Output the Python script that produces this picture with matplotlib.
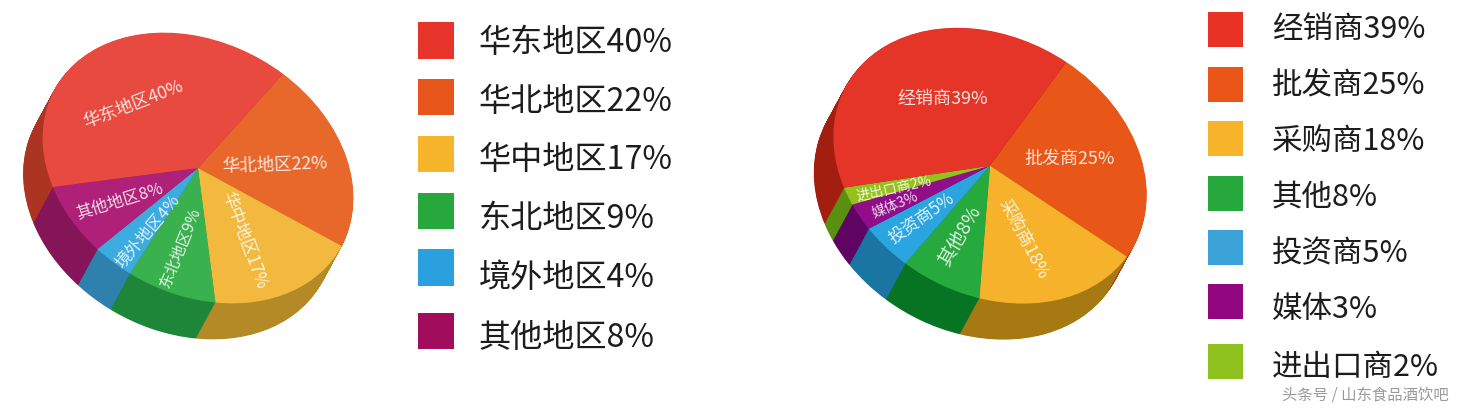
import matplotlib
matplotlib.use("Agg")
import matplotlib.pyplot as plt
from matplotlib.patches import Rectangle
from matplotlib.transforms import Affine2D

plt.rcParams['font.family'] = ['Noto Sans CJK SC', 'DejaVu Sans']

W, H = 1459, 408

# ---- data -------------------------------------------------------------
region_names = ['华北地区', '华中地区', '东北地区', '境外地区', '其他地区', '华东地区']
region_values = [22, 17, 9, 4, 8, 40]
channel_names = ['批发商', '采购商', '其他', '投资商', '媒体', '进出口商', '经销商']
channel_values = [25, 18, 8, 5, 3, 2, 39]

legend_region_names = ['华东地区', '华北地区', '华中地区', '东北地区', '境外地区', '其他地区']
legend_region_values = [40, 22, 17, 9, 4, 8]
legend_channel_names = ['经销商', '批发商', '采购商', '其他', '投资商', '媒体', '进出口商']
legend_channel_values = [39, 25, 18, 8, 5, 3, 2]

# ---- styles -----------------------------------------------------------
region_top = ['#E8682C', '#F3B93E', '#39B14E', '#3BABE0', '#AF2079', '#E84A3F']
region_side = ['#AE4A1C', '#B38A26', '#1E8639', '#2E80AD', '#851558', '#AB3520']
channel_top = ['#E85717', '#F6B22A', '#27AA3D', '#2BA5E0', '#920D8A', '#95C11F', '#E53428']
channel_side = ['#AA3F10', '#A67912', '#077423', '#1B75A3', '#5E0563', '#5A9010', '#A41E10']
region_legend_colors = ['#E8352B', '#E8551A', '#F7B52B', '#27A83C', '#2BA0DF', '#A10C5C']
channel_legend_colors = ['#E83226', '#E85516', '#F7B32A', '#27A83C', '#3BA2D8', '#920680', '#8FC11F']

# label layout: centre x, centre y, rotation, font px (same order as the data)
region_labels = [(275, 165, 2, 17.5), (244, 240, -70, 17), (181, 248, 68, 15.5),
                 (148, 232, 50, 16.5), (120, 201, 17, 16.5), (133, 104, 21, 17.5)]
channel_labels = [(1070, 159, 0, 18), (1023, 239, -62, 17.5), (960, 236, 60, 19),
                  (922, 219, 35, 17), (895, 205, 22, 14), (894, 189, 12, 14), (943, 99, 0, 18)]

region_legend_y = [22.3, 79, 135.7, 192.7, 249.3, 312.7]
region_legend_text_y = [43, 102, 160, 219, 278, 338]
channel_legend_y = [12.3, 66.7, 121, 175.7, 230, 284.3, 344.3]
channel_legend_text_y = [29, 85, 141, 197, 254, 310, 367]

fig = plt.figure(figsize=(W / 100, H / 100), dpi=100)
ax = fig.add_axes([0, 0, 1, 1])


def tilted_pie(values, colors, centre, p, q, shift=(0.0, 0.0)):
    """Draw a pie with the library, then map its unit circle to a tilted disc."""
    wedges, _ = ax.pie(values, colors=colors, startangle=0, radius=1,
                       wedgeprops={'linewidth': 0})
    m = Affine2D.from_values(p[0], p[1], q[0], q[1],
                             centre[0] + shift[0], centre[1] + shift[1])
    for w in wedges:
        w.set_transform(m + ax.transData)
        w.set_clip_on(False)


def solid_pie(values, top, side, centre, p, q, depth):
    layers = int(max(abs(depth[0]), abs(depth[1])) * 2)
    for i in range(layers, 0, -1):
        t = i / layers
        tilted_pie(values, side, centre, p, q, (depth[0] * t, depth[1] * t))
    tilted_pie(values, top, centre, p, q)


solid_pie(region_values, region_top, region_side,
          (198, 168), (85, -94.1), (130.1, 97.3), (-19.5, 36))
solid_pie(channel_values, channel_top, channel_side,
          (990, 165.7), (76.2, -103.7), (136.9, 90.9), (-19.5, 36))

ax.set_aspect('auto')
ax.set_xlim(0, W)
ax.set_ylim(H, 0)
ax.axis('off')

PX = 72 / 100  # points per pixel at this dpi

for names, values, layout in [(region_names, region_values, region_labels),
                              (channel_names, channel_values, channel_labels)]:
    for name, v, (x, y, rot, px) in zip(names, values, layout):
        ax.text(x, y, f'{name}{v}%', color='white', alpha=0.85, fontsize=px * PX,
                rotation=rot, rotation_mode='anchor', ha='center', va='center')

for names, values, colors, ys, tys, x0, size, tx, px in [
    (legend_region_names, legend_region_values, region_legend_colors,
     region_legend_y, region_legend_text_y, 418, 36.3, 479, 32.2),
    (legend_channel_names, legend_channel_values, channel_legend_colors,
     channel_legend_y, channel_legend_text_y, 1208, 35, 1272, 30.5),
]:
    for name, v, c, y, ty in zip(names, values, colors, ys, tys):
        ax.add_patch(Rectangle((x0, y), size, size, facecolor=c, edgecolor='none'))
        ax.text(tx, ty, f'{name}{v}%', color='#1c1c1c', fontsize=px * PX,
                ha='left', va='center')

ax.text(1449, 395, '头条号 / 山东食品酒饮吧', color='#9a9a9a', fontsize=15.4 * PX,
        ha='right', va='center')

fig.savefig('out.png', dpi=100, facecolor='white')
